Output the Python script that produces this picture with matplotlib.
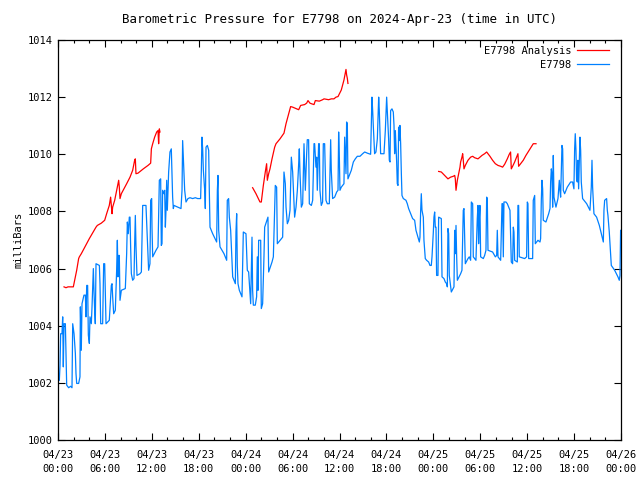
"""Barometric pressure for E7798, gnuplot-style time series."""
import matplotlib
matplotlib.use("Agg")
import matplotlib.pyplot as plt
from matplotlib.ticker import MultipleLocator

nan = float("nan")

# hours since 2024-04-23 00:00 UTC, pressure in mb
obs_hours = [
    0.17, 0.26, 0.34, 0.51, 0.60, 0.68, 0.77, 0.94, 1.02, 1.11, 1.36, 1.62, 1.79, 1.88, 2.05,
    2.22, 2.30, 2.39, 2.64, 2.81, 2.86, 2.98, 3.07, 3.32, 3.50, 3.58, 3.67, 3.79, 3.88, 4.01,
    4.09, 4.26, 4.35, 4.52, 4.60, 4.69, 4.77, 4.86, 5.29, 5.37, 5.46, 5.71, 5.84, 5.97, 6.05,
    6.14, 6.56, 6.82, 6.91, 6.99, 7.12, 7.33, 7.50, 7.59, 7.67, 7.76, 7.84, 7.93, 8.10, 8.61,
    8.78, 8.87, 8.99, 9.12, 9.21, 9.29, 9.38, 9.55, 9.72, 9.80, 9.89, 9.97, 10.10, 10.49, 10.66,
    10.83, 11.25, 11.42, 11.59, 11.76, 11.85, 11.98, 12.02, 12.11, 12.53, 12.79, 12.96, 13.13, 13.21, 13.30,
    13.38, 13.55, 13.64, 13.73, 13.81, 13.90, 13.98, 14.15, 14.32, 14.49, 14.58, 14.66, 14.75, 14.83, 15.73,
    15.86, 15.94, 16.03, 16.20, 16.37, 16.62, 16.88, 17.22, 17.56, 17.86, 18.24, 18.33, 18.41, 18.50, 18.59,
    18.76, 18.84, 18.93, 19.10, 19.27, 19.35, 19.44, 19.78, 20.29, 20.38, 20.46, 20.55, 20.72, 21.23, 21.57,
    21.65, 21.82, 21.91, 22.08, 22.25, 22.34, 22.68, 22.76, 22.85, 22.93, 23.02, 23.19, 23.53, 23.70, 24.04,
    24.21, 24.38, 24.55, 24.64, 24.81, 24.89, 24.98, 25.23, 25.40, 25.49, 25.58, 25.66, 25.92, 26.00, 26.17,
    26.34, 26.43, 26.85, 26.94, 27.37, 27.54, 27.79, 27.96, 28.05, 28.73, 28.90, 29.07, 29.16, 29.33, 29.50,
    29.67, 29.84, 30.01, 30.26, 30.44, 30.61, 30.78, 30.86, 30.95, 31.12, 31.29, 31.46, 31.63, 31.80, 31.88,
    32.05, 32.14, 32.40, 32.57, 32.74, 32.82, 32.99, 33.08, 33.16, 33.33, 33.42, 33.50, 33.67, 33.84, 33.93,
    34.10, 34.27, 34.44, 34.70, 34.87, 34.95, 35.12, 35.38, 35.64, 35.81, 35.89, 35.98, 36.06, 36.23, 36.57,
    36.66, 36.83, 36.91, 37.00, 37.08, 37.25, 37.51, 37.77, 38.02, 38.28, 38.62, 38.96, 39.22, 39.56, 39.98,
    40.07, 40.15, 40.24, 40.32, 40.49, 40.66, 40.84, 41.01, 41.09, 41.26, 41.69, 41.86, 42.03, 42.11, 42.28,
    42.37, 42.46, 42.54, 42.71, 42.88, 42.97, 43.05, 43.14, 43.31, 43.39, 43.48, 43.56, 43.65, 43.73, 43.82,
    43.91, 43.99, 44.16, 44.50, 44.67, 44.84, 45.10, 45.35, 45.61, 45.78, 46.04, 46.21, 46.29, 46.38, 46.46,
    46.55, 46.72, 46.80, 46.97, 47.14, 47.40, 47.57, 47.74, 47.83, 48.00, 48.08, 48.17, 48.25, 48.34, 48.42,
    48.59, 48.68, 49.02, 49.11, 49.36, 49.53, 49.70, 49.79, 49.87, 49.96, 50.04, 50.21, 50.30, 50.64, 50.73,
    50.81, 50.90, 50.98, 51.07, 51.49, 51.66, 51.83, 51.92, 52.09, 52.43, 52.60, 52.77, 52.86, 53.03, 53.11,
    53.45, 53.62, 53.71, 53.79, 53.88, 53.96, 54.05, 54.39, 54.56, 54.73, 54.82, 54.90, 54.99, 55.58, 55.93,
    56.10, 56.18, 56.27, 56.61, 56.78, 56.86, 56.95, 57.03, 57.29, 57.46, 57.63, 57.80, 57.88, 57.97, 58.14,
    58.23, 58.31, 58.40, 58.74, 58.82, 58.91, 58.99, 59.68, 59.93, 60.02, 60.10, 60.19, 60.70, 60.78, 60.96,
    61.04, 61.38, 61.64, 61.72, 61.81, 61.89, 61.98, 62.06, 62.40, 62.75, 62.92, 63.00, 63.09, 63.17, 63.26,
    63.34, 63.43, 63.68, 63.94, 64.11, 64.19, 64.28, 64.45, 64.54, 64.62, 64.79, 65.13, 65.56, 65.81, 65.98,
    66.07, 66.15, 66.24, 66.32, 66.41, 66.49, 66.58, 66.67, 66.75, 66.84, 66.92, 67.09, 67.61, 68.03, 68.20,
    68.29, 68.37, 68.54, 68.88, 69.23, 69.48, 69.74, 69.82, 69.91, 70.16, 70.25, 70.33, 70.50, 70.67, 70.76,
    71.19, 71.61, 71.78, 71.87, 71.95, 72.04,
]
obs_mb = [
    1002.09, 1002.62, 1003.72, 1003.72, 1004.31, 1002.56, 1004.07, 1004.07, 1002.97, 1001.92, 1001.83, 1001.88, 1001.83, 1004.07, 1003.72,
    1003.03, 1002.33, 1001.98, 1001.98, 1002.21, 1004.66, 1003.14, 1004.77, 1005.07, 1005.07, 1004.31, 1005.41, 1005.41, 1003.67, 1003.38,
    1004.31, 1004.07, 1004.66, 1006.00, 1005.24, 1004.54, 1004.07, 1006.17, 1006.11, 1005.47, 1004.07, 1004.07, 1006.17, 1006.17, 1005.12,
    1004.07, 1004.19, 1005.41, 1005.47, 1005.01, 1004.42, 1004.54, 1005.94, 1006.99, 1005.71, 1006.46, 1006.46, 1004.89, 1005.24, 1005.30,
    1006.52, 1007.63, 1007.22, 1007.80, 1007.80, 1006.76, 1005.82, 1005.59, 1005.65, 1006.81, 1007.86, 1006.81, 1005.76, 1005.82, 1005.88,
    1008.21, 1008.21, 1007.10, 1005.94, 1006.17, 1008.39, 1008.45, 1007.45, 1006.41, 1006.64, 1006.76, 1009.09, 1009.14, 1006.81, 1006.87,
    1008.74, 1008.62, 1008.74, 1007.45, 1008.04, 1009.09, 1008.04, 1009.38, 1010.08, 1010.19, 1009.32, 1008.50, 1008.10, 1008.21, 1008.10,
    1008.74, 1010.48, 1009.90, 1008.74, 1008.33, 1008.45, 1008.48, 1008.45, 1008.48, 1008.45, 1008.45, 1009.44, 1010.60, 1010.19, 1009.44,
    1008.74, 1008.10, 1010.25, 1010.31, 1010.14, 1008.74, 1007.45, 1007.22, 1006.93, 1008.74, 1009.26, 1007.34, 1006.76, 1006.52, 1006.29,
    1008.39, 1008.45, 1007.80, 1007.34, 1006.23, 1005.71, 1005.47, 1007.28, 1007.92, 1006.11, 1005.47, 1005.24, 1005.01, 1007.28, 1007.22,
    1005.94, 1005.88, 1005.12, 1004.77, 1007.10, 1005.24, 1004.72, 1004.72, 1005.01, 1006.41, 1005.24, 1006.99, 1006.99, 1004.60, 1004.77,
    1006.41, 1007.45, 1007.80, 1005.88, 1006.23, 1006.41, 1008.91, 1008.85, 1006.87, 1007.10, 1009.38, 1008.97, 1008.15, 1007.57, 1007.69,
    1008.04, 1009.90, 1009.38, 1007.80, 1008.15, 1008.74, 1009.67, 1010.19, 1009.32, 1008.15, 1008.27, 1010.37, 1008.74, 1010.02, 1010.51,
    1010.51, 1008.27, 1008.21, 1008.39, 1010.37, 1010.37, 1009.55, 1009.90, 1008.74, 1010.37, 1010.37, 1008.74, 1008.21, 1008.33, 1010.37,
    1010.37, 1008.39, 1008.27, 1008.27, 1010.51, 1009.44, 1008.45, 1008.50, 1008.68, 1008.74, 1010.78, 1009.90, 1008.74, 1008.85, 1008.97,
    1010.60, 1009.32, 1011.13, 1011.07, 1009.14, 1009.26, 1009.44, 1009.73, 1009.84, 1009.93, 1009.93, 1010.02, 1010.08, 1010.04, 1010.00,
    1011.01, 1012.00, 1011.53, 1011.01, 1010.02, 1010.08, 1010.54, 1012.00, 1011.53, 1010.02, 1010.02, 1010.83, 1012.00, 1011.53, 1010.54,
    1009.79, 1009.73, 1011.53, 1011.59, 1011.48, 1011.01, 1010.02, 1010.83, 1009.73, 1008.97, 1008.91, 1010.95, 1010.48, 1011.01, 1010.37,
    1009.32, 1008.56, 1008.45, 1008.39, 1008.27, 1008.10, 1007.92, 1007.75, 1007.69, 1007.34, 1007.10, 1006.93, 1007.10, 1008.04, 1008.62,
    1008.04, 1007.80, 1006.99, 1006.35, 1006.29, 1006.23, 1006.11, 1006.11, 1006.41, 1007.28, 1007.80, 1007.98, 1007.45, 1007.45, 1005.76,
    1005.76, 1007.80, 1007.75, 1005.71, 1005.65, 1005.53, 1005.47, 1005.36, 1007.40, 1007.22, 1005.76, 1005.36, 1005.18, 1005.36, 1007.34,
    1006.52, 1007.51, 1006.46, 1005.59, 1005.82, 1005.94, 1008.04, 1008.10, 1006.17, 1006.35, 1006.41, 1006.29, 1008.33, 1008.27, 1006.41,
    1006.29, 1007.75, 1008.21, 1006.87, 1007.75, 1008.21, 1006.41, 1006.35, 1006.46, 1006.64, 1008.50, 1008.45, 1006.64, 1006.58, 1006.41,
    1006.46, 1007.34, 1006.41, 1006.29, 1008.27, 1008.27, 1006.41, 1008.33, 1008.33, 1008.27, 1008.15, 1008.04, 1007.22, 1006.23, 1006.17,
    1007.45, 1007.28, 1006.29, 1006.23, 1008.21, 1008.21, 1006.41, 1006.35, 1006.41, 1008.33, 1008.27, 1006.35, 1006.35, 1008.39, 1008.56,
    1006.87, 1006.99, 1006.93, 1007.05, 1008.39, 1009.09, 1008.79, 1007.69, 1007.63, 1007.92, 1008.10, 1009.03, 1009.49, 1009.32, 1008.15,
    1009.96, 1008.50, 1008.15, 1008.45, 1009.09, 1008.74, 1008.50, 1010.31, 1010.19, 1008.74, 1008.62, 1008.85, 1009.03, 1009.03, 1008.79,
    1010.19, 1010.72, 1010.14, 1009.14, 1009.03, 1009.79, 1008.79, 1009.73, 1010.60, 1010.14, 1009.03, 1008.45, 1008.27, 1008.04, 1008.85,
    1009.79, 1008.85, 1007.92, 1007.80, 1007.51, 1007.22, 1006.93, 1008.04, 1008.39, 1008.45, 1008.04, 1007.86, 1007.28, 1006.52, 1006.11,
    1005.94, 1005.71, 1005.59, 1005.76, 1007.34, 1007.34,
]

# analysis series, nan separates the three runs
ana_hours = [
    0.77, 1.02, 1.28, 1.96, 2.13, 2.39, 2.64, 2.73, 2.98, 4.01, 4.86, 5.03, 5.54, 5.97, 6.22,
    6.56, 6.73, 6.91, 6.99, 7.25, 7.50, 7.76, 7.84, 7.93, 8.10, 8.78, 9.21, 9.55, 9.80, 9.89,
    9.97, 10.23, 10.91, 11.51, 11.85, 11.94, 12.11, 12.36, 12.62, 12.79, 12.87, 12.96, 13.04,
    nan,
    24.89, 25.32, 25.83, 26.00, 26.26, 26.51, 26.68, 26.77, 26.94, 27.11, 27.37, 27.71, 27.88, 28.39, 28.90,
    29.16, 29.50, 29.75, 30.01, 30.52, 30.78, 31.03, 31.54, 31.80, 31.97, 32.22, 32.40, 32.74, 32.91, 33.42,
    33.84, 34.02, 34.61, 34.95, 35.29, 35.55, 35.81, 36.23, 36.57, 36.83, 36.91, 37.00, 37.08,
    nan,
    48.68, 49.02, 49.45, 49.87, 50.21, 50.55, 50.73, 50.81, 50.90, 50.98, 51.07, 51.24, 51.41, 51.49, 51.66,
    51.75, 51.83, 51.92, 52.09, 52.43, 52.77, 53.03, 53.28, 53.71, 53.96, 54.22, 54.56, 54.82, 54.99, 55.24,
    55.58, 55.93, 56.27, 56.61, 56.86, 57.12, 57.46, 57.71, 57.88, 57.97, 58.14, 58.40, 58.65, 58.82, 58.91,
    59.16, 59.50, 59.84, 60.19, 60.53, 60.78, 61.13,
]
ana_mb = [
    1005.36, 1005.33, 1005.36, 1005.36, 1005.59, 1005.94, 1006.35, 1006.41, 1006.52, 1007.05, 1007.45, 1007.51, 1007.59, 1007.69, 1007.92,
    1008.21, 1008.50, 1007.92, 1008.15, 1008.39, 1008.74, 1009.09, 1008.85, 1008.45, 1008.62, 1008.97, 1009.20, 1009.44, 1009.79, 1009.84,
    1009.32, 1009.34, 1009.49, 1009.61, 1009.69, 1010.19, 1010.37, 1010.60, 1010.78, 1010.83, 1010.37, 1010.89, 1010.78,
    nan,
    1008.83, 1008.62, 1008.33, 1008.33, 1008.91, 1009.38, 1009.67, 1009.09, 1009.32, 1009.49, 1009.84, 1010.25, 1010.37, 1010.54, 1010.74,
    1011.07, 1011.42, 1011.67, 1011.65, 1011.59, 1011.56, 1011.71, 1011.74, 1011.79, 1011.88, 1011.79, 1011.77, 1011.74, 1011.88, 1011.86,
    1011.91, 1011.94, 1011.91, 1011.94, 1011.94, 1012.00, 1012.02, 1012.25, 1012.60, 1012.97, 1012.78, 1012.66, 1012.48,
    nan,
    1009.40, 1009.38, 1009.26, 1009.14, 1009.20, 1009.23, 1009.26, 1009.14, 1008.74, 1008.91, 1009.09, 1009.32, 1009.55, 1009.73, 1009.90,
    1010.02, 1009.79, 1009.49, 1009.61, 1009.79, 1009.90, 1009.93, 1009.88, 1009.84, 1009.90, 1009.96, 1010.02, 1010.08, 1010.02, 1009.93,
    1009.79, 1009.67, 1009.61, 1009.58, 1009.55, 1009.65, 1009.84, 1010.00, 1010.08, 1009.49, 1009.58, 1009.73, 1009.90, 1010.02, 1009.58,
    1009.67, 1009.79, 1009.96, 1010.11, 1010.25, 1010.37, 1010.37,
]

tick_hours = [0, 6, 12, 18, 24, 30, 36, 42, 48, 54, 60, 66, 72]
tick_labels = ["04/23\n00:00", "04/23\n06:00", "04/23\n12:00", "04/23\n18:00",
               "04/24\n00:00", "04/24\n06:00", "04/24\n12:00", "04/24\n18:00",
               "04/25\n00:00", "04/25\n06:00", "04/25\n12:00", "04/25\n18:00",
               "04/26\n00:00"]

plt.rcParams["font.family"] = "DejaVu Sans Mono"
plt.rcParams["font.size"] = 7.5

fig = plt.figure(figsize=(6.4, 4.8), dpi=100)
ax = fig.add_axes([58 / 640, 40 / 480, 563 / 640, 400 / 480])

ax.plot(ana_hours, ana_mb, color="#ff0000", lw=0.9, label="E7798 Analysis")
ax.plot(obs_hours, obs_mb, color="#0080ff", lw=0.9, label="E7798")

ax.set_xlim(0, 72)
ax.set_ylim(1000, 1014)
ax.set_xticks(tick_hours)
ax.set_xticklabels(tick_labels, linespacing=1.55)
ax.xaxis.set_minor_locator(MultipleLocator(2))
ax.set_yticks(range(1000, 1015, 2))

ax.tick_params(which="major", direction="in", length=5, width=0.8,
               top=True, right=True, pad=7, colors="black")
ax.tick_params(axis="y", which="major", pad=4)
ax.tick_params(which="minor", direction="in", length=2.5, width=0.8,
               top=True, right=False)
ax.tick_params(axis="y", which="minor", left=False, right=False)
for s in ax.spines.values():
    s.set_linewidth(0.9)

ax.set_ylabel("milliBars", labelpad=3)
ax.set_title("Barometric Pressure for E7798 on 2024-Apr-23 (time in UTC)", pad=12)

ax.legend(loc="upper right", bbox_to_anchor=(0.988, 1.0), frameon=False,
          markerfirst=False, handlelength=3.0, handletextpad=0.6,
          labelspacing=0.4, borderaxespad=0.15)

fig.savefig("out.png", dpi=100)
